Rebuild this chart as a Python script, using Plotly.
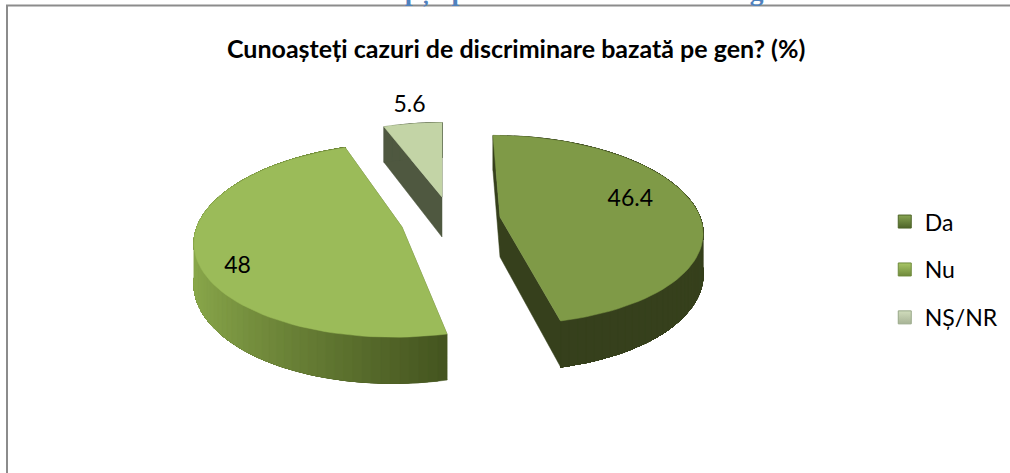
import numpy as np
import plotly.graph_objects as go

# ---- data ----
categories = ["Da", "Nu", "NȘ/NR"]
values = [46.4, 48, 5.6]
value_labels = ["46.4", "48", "5.6"]
chart_title = "Cunoașteți cazuri de discriminare bazată pe gen? (%)"
page_heading = "Grafic 5. Percepții privind discriminarea de gen"

# ---- style and layout ----
top_colors = ["#7f9a47", "#9bbb59", "#c3d4a6"]
wall_left = ["#36401c", "#8aa84b", "#4f5840"]
wall_right = ["#36401c", "#44541f", "#4f5840"]
legend_colors = ["#88a552", "#a8c665", "#d0dcbc"]
legend_bottoms = ["#4e6429", "#6f8a3c", "#a8b496"]
legend_lines = ["#4e6429", "#6f8a3c", "#98a888"]
apex = [(500, 217), (402, 227), (442, 197)]       # exploded slice tips, pixels
rx_scale = [1.0, 1.025, 0.95]
ry_scale = [1.02, 1.05, 0.93]
shear = [0.086, -0.074, 0.0]
label_frac = [0.65, 0.85, 1.20]
label_off = [(3, -10), (10, 16), (2, -5)]
RX, RY, K, DEPTH = 200, 90.8, 0.135, 40


def project(i, t, frac=1.0, drop=0.0):
    ap = apex[i]
    s, c = np.sin(t), np.cos(t)
    w = 1 + K * c * frac
    dy = -RY * ry_scale[i] * c * frac / w
    dx = RX * rx_scale[i] * s * frac / w + shear[i] * dy
    return ap[0] + dx, ap[1] + dy + drop / w


def mix(a, b, f):
    ca = [int(a[i:i + 2], 16) for i in (1, 3, 5)]
    cb = [int(b[i:i + 2], 16) for i in (1, 3, 5)]
    return "rgb(%d,%d,%d)" % tuple(round(x + (y - x) * f) for x, y in zip(ca, cb))


def poly(xs, ys, color):
    return go.Scatter(x=list(xs), y=list(ys), mode="lines", fill="toself", fillcolor=color,
                      line=dict(color=color, width=0.5), hoverinfo="skip", showlegend=False)


fig = go.Figure()
total = sum(values)
edges = np.cumsum([0] + values) / total * 2 * np.pi

for i, (name, v) in enumerate(zip(categories, values)):
    a0, a1, ap = edges[i], edges[i + 1], apex[i]
    ts = np.linspace(a0, a1, max(6, int(v * 1.6)))

    # radial walls
    for t in (a0, a1):
        ex, ey = project(i, t)
        bx, by = project(i, t, drop=DEPTH)
        fig.add_trace(poly([ap[0], ex, bx, ap[0]], [ap[1], ey, by, ap[1] + DEPTH],
                           wall_right[i] if i != 1 else "#5a6e2c"))

    # outer wall: each band covers the rest of the arc, so no seams show
    xs_all = project(i, ts)[0]
    xmin, xmax = xs_all.min(), xs_all.max()
    for k in range(len(ts) - 1):
        rest = ts[k:]
        tx, ty = project(i, rest)
        bx, by = project(i, rest, drop=DEPTH)
        f = ((xs_all[k] + xs_all[k + 1]) / 2 - xmin) / max(xmax - xmin, 1)
        fig.add_trace(poly([*tx, *bx[::-1], tx[0]], [*ty, *by[::-1], ty[0]],
                           mix(wall_left[i], wall_right[i], f ** 0.8)))

    # top face
    px, py = project(i, ts)
    fig.add_trace(poly([ap[0], *px, ap[0]], [ap[1], *py, ap[1]], top_colors[i]))

# value labels
lx, ly = [], []
for i in range(3):
    mid = (edges[i] + edges[i + 1]) / 2
    x, y = project(i, mid, frac=label_frac[i])
    lx.append(x + label_off[i][0])
    ly.append(y + label_off[i][1])
fig.add_trace(go.Scatter(x=lx, y=ly, mode="text", text=value_labels, showlegend=False,
                         textfont=dict(family="Lato", size=23, color="#000000"), hoverinfo="skip"))

# legend entries
for i, name in enumerate(categories):
    fig.add_trace(go.Scatter(x=[None], y=[None], mode="markers", name=name, legendgroup=name,
                             marker=dict(symbol="square", size=13, color=legend_colors[i],
                                         gradient=dict(type="vertical", color=legend_bottoms[i]),
                                         line=dict(color=legend_lines[i], width=1))))

fig.update_layout(
    width=1010, height=473, margin=dict(l=0, r=0, t=0, b=0),
    paper_bgcolor="#ffffff", plot_bgcolor="#ffffff",
    xaxis=dict(range=[0, 1010], visible=False, fixedrange=True),
    yaxis=dict(range=[473, 0], visible=False, fixedrange=True),
    legend=dict(x=0.876, y=0.43, xanchor="left", yanchor="middle", tracegroupgap=15,
                font=dict(family="Lato", size=23, color="#000000"), bgcolor="rgba(0,0,0,0)"),
    shapes=[
        dict(type="line", xref="x", yref="y", x0=6, x1=1010, y0=5.5, y1=5.5,
             line=dict(color="#8c8c8c", width=2)),
        dict(type="line", xref="x", yref="y", x0=7, x1=7, y0=5, y1=473,
             line=dict(color="#8c8c8c", width=2)),
    ],
    annotations=[
        dict(text="<b>%s</b>" % chart_title, xref="x", yref="y", x=516, y=47.5, showarrow=False,
             font=dict(family="Lato", size=25, color="#000000")),
        dict(text="<b>%s</b>" % page_heading, xref="x", yref="y", x=510, y=9.5, yanchor="bottom",
             showarrow=False, font=dict(family="Liberation Serif", size=27.5, color="#4f81bd")),
    ],
)
fig.write_html("out.html", config={"displayModeBar": False},
               post_script="document.body.style.margin='0';document.body.style.overflow='hidden';")
